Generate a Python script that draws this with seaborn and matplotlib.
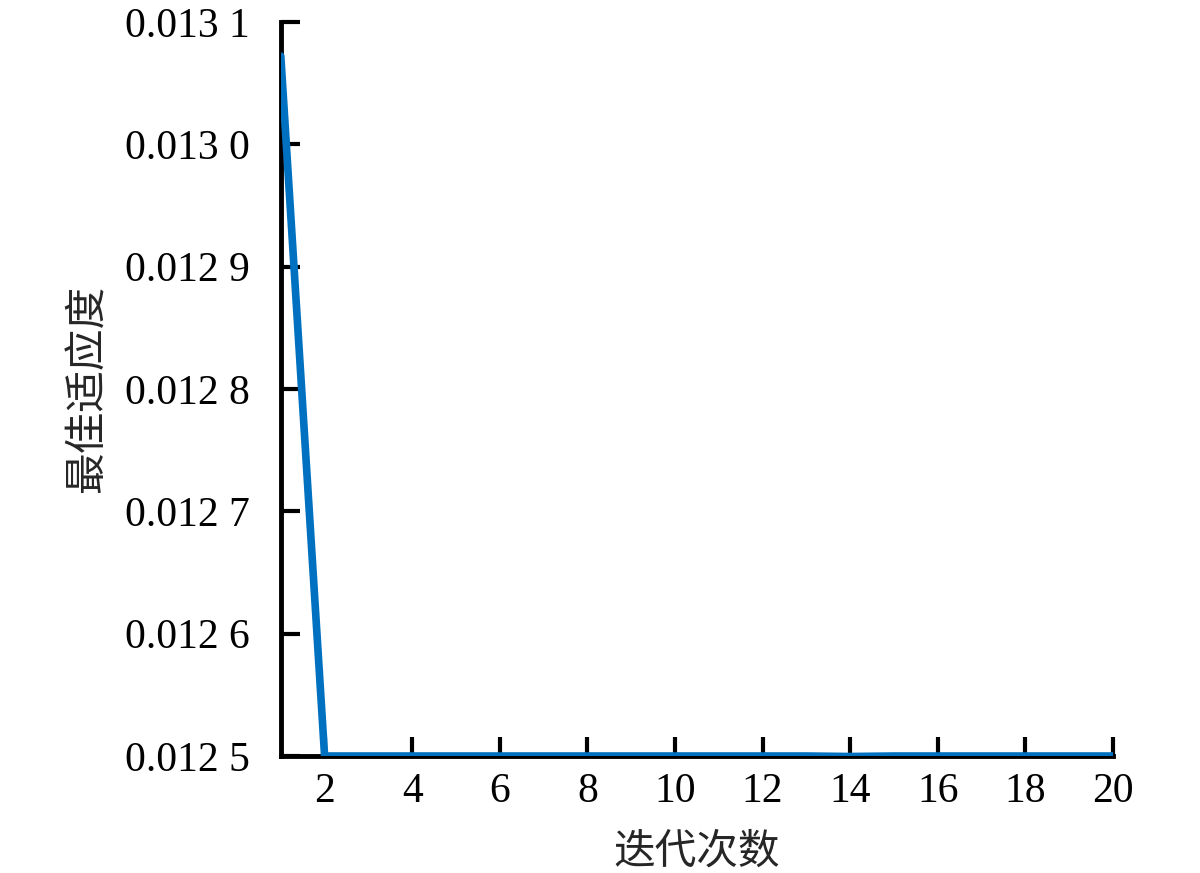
import numpy as np
import pandas as pd
import matplotlib
matplotlib.use("Agg")
import matplotlib.pyplot as plt
import seaborn as sns

# ── Data ──────────────────────────────────────────
iterations = list(range(1, 21))
best_fitness = [0.013072, 0.0125, 0.0125, 0.0125, 0.0125, 0.0125, 0.0125,
                0.0125, 0.0125, 0.0125, 0.0125, 0.0125, 0.0125, 0.0124996,
                0.0125, 0.0125, 0.0125, 0.0125, 0.0125, 0.0125]
x_ticks = [2, 4, 6, 8, 10, 12, 14, 16, 18, 20]
y_ticks = [0.0125, 0.0126, 0.0127, 0.0128, 0.0129, 0.0130, 0.0131]
y_tick_labels = ["0.012 5", "0.012 6", "0.012 7", "0.012 8",
                 "0.012 9", "0.013 0", "0.013 1"]

df = pd.DataFrame({"iter": iterations, "fit": best_fitness})

# ── Plot ──────────────────────────────────────────
sns.set_style("white")
plt.rcParams['font.family'] = ['Liberation Serif', 'Noto Sans CJK SC']

fig = plt.figure(figsize=(12, 8.73), dpi=100)
ax = fig.add_axes([0.234, 0.134, 0.6935, 0.841])

sns.lineplot(data=df, x="iter", y="fit", ax=ax, color="#0070C0",
             linewidth=5.5, solid_joinstyle="round", solid_capstyle="round")

ax.set_xlim(1, 20)
ax.set_ylim(0.0125, 0.0131)
ax.set_xticks(x_ticks)
ax.set_yticks(y_ticks)
ax.set_yticklabels(y_tick_labels)

for s in ["top", "right"]:
    ax.spines[s].set_visible(False)
for s in ["left", "bottom"]:
    ax.spines[s].set_linewidth(3.5)
    ax.spines[s].set_color("black")
    ax.spines[s].set_zorder(1)

ax.tick_params(bottom=True, left=True, direction="in", length=14, width=3,
               labelsize=30, colors="black")
ax.tick_params(axis="y", pad=22)
ax.tick_params(axis="x", pad=12)

cjk = ['Noto Sans CJK SC', 'DejaVu Sans']
ax.set_xlabel("迭代次数", fontsize=30, family=cjk, labelpad=15)
ax.set_ylabel("最佳适应度", fontsize=30, family=cjk, labelpad=12)

plt.savefig("out.png", dpi=100)
